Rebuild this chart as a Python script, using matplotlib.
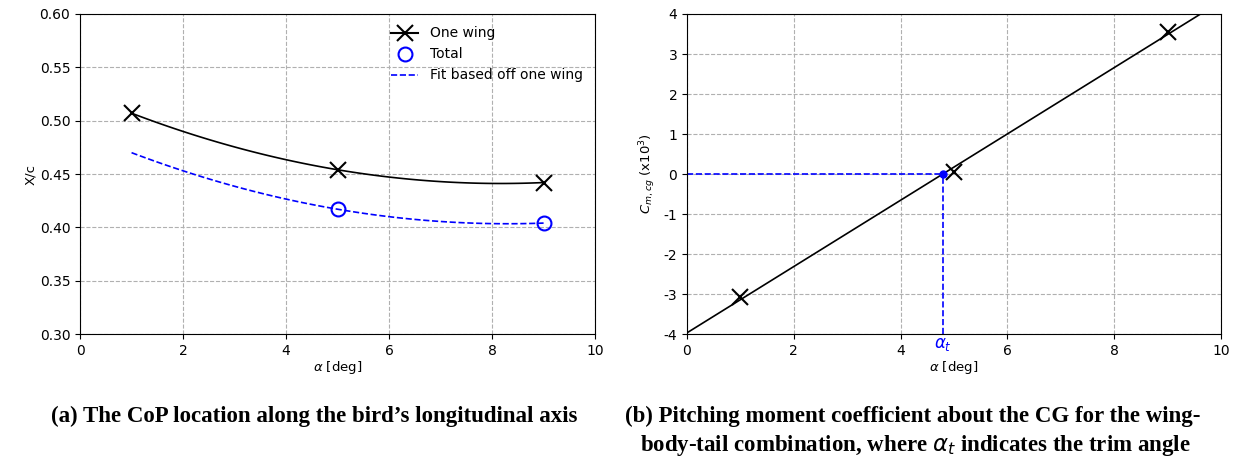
import numpy as np
import matplotlib
matplotlib.use("Agg")
import matplotlib.pyplot as plt

plt.rcParams['axes.unicode_minus'] = False
plt.rcParams['mathtext.fontset'] = 'dejavusans'

# (a) centre of pressure
alpha_wing = [1, 5, 9]
xc_wing = [0.507, 0.454, 0.442]
alpha_total = [5, 9]
xc_total = [0.417, 0.404]
alpha_fit = [1, 5, 9]
xc_fit = [0.470, 0.417, 0.404]

# (b) pitching moment
alpha_cm = [1, 5, 9]
cm_cg = [-3.08, 0.05, 3.55]

fig = plt.figure(figsize=(12.45, 4.62), dpi=100)
ax1 = fig.add_axes([0.0643, 0.277, 0.4137, 0.6927])
ax2 = fig.add_axes([0.5518, 0.277, 0.4289, 0.6927])

# left panel
xs = np.linspace(1, 9, 100)
pw = np.polyfit(alpha_wing, xc_wing, 2)
pf = np.polyfit(alpha_fit, xc_fit, 2)
ax1.plot(xs, np.polyval(pw, xs), color='black', lw=1.2)
ax1.plot(alpha_wing, xc_wing, 'x', color='black', ms=11, mew=1.5)
ax1.plot([], [], 'x-', color='black', ms=11, mew=1.5, label='One wing')
ax1.plot(alpha_total, xc_total, 'o', mfc='none', mec='blue', ms=10, mew=1.5, label='Total')
ax1.plot(xs, np.polyval(pf, xs), '--', color='blue', lw=1.2, label='Fit based off one wing')
ax1.legend(loc='upper right', frameon=False, fontsize=10)
ax1.set_xlim(0, 10)
ax1.set_ylim(0.30, 0.60)
ax1.set_yticks(np.arange(0.30, 0.601, 0.05))
ax1.set_yticklabels(['%.2f' % v for v in np.arange(0.30, 0.601, 0.05)])
ax1.set_xlabel(r'$\alpha$ [deg]', fontsize=9.5, labelpad=1)
ax1.set_ylabel('X/c', fontsize=9.5, labelpad=2)
ax1.grid(True, ls='--', color='#b0b0b0', lw=0.8)
ax1.tick_params(labelsize=10)

# right panel
p = np.polyfit(alpha_cm, cm_cg, 1)
xl = np.linspace(0, 10, 50)
ax2.plot(xl, np.polyval(p, xl), color='black', lw=1.2)
ax2.plot(alpha_cm, cm_cg, 'x', color='black', ms=11, mew=1.5)
a_trim = -p[1] / p[0]
ax2.plot([0, a_trim], [0, 0], '--', color='blue', lw=1.2)
ax2.plot([a_trim, a_trim], [-4, 0], '--', color='blue', lw=1.2)
ax2.plot(a_trim, 0, 'o', color='blue', ms=5)
ax2.set_xlim(0, 10)
ax2.set_ylim(-4, 4)
ax2.set_yticks(range(-4, 5))
ax2.annotate(r'$\alpha_t$', xy=(a_trim, -4), xytext=(0, -1), textcoords='offset points',
             color='blue', ha='center', va='top', fontsize=12)
ax2.set_xlabel(r'$\alpha$ [deg]', fontsize=9.5, labelpad=1)
ax2.set_ylabel(r'$C_{m,cg}$ (x10$^3$)', fontsize=9.5)
ax2.grid(True, ls='--', color='#b0b0b0', lw=0.8)
ax2.tick_params(labelsize=10)

cap = dict(family='Liberation Serif', weight='bold', fontsize=16.5)
fig.text(0.2526, 0.098, "(a) The CoP location along the bird\u2019s longitudinal axis", ha='center', va='center', **cap)
fig.text(0.502, 0.098, "(b) Pitching moment coefficient about the CG for the wing-", ha='left', va='center', **cap)
fig.text(0.514, 0.035, r"body-tail combination, where $\alpha_t$ indicates the trim angle", ha='left', va='center', **cap)

fig.savefig('out.png', dpi=100)
